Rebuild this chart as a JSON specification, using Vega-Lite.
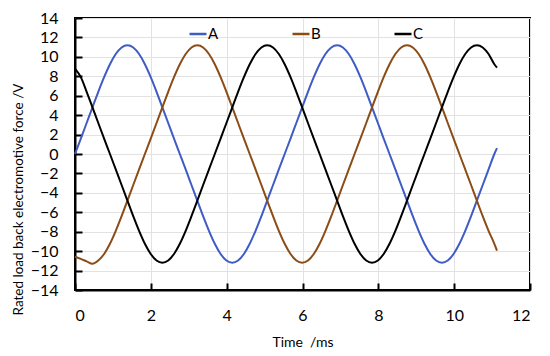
{
  "$schema": "https://vega.github.io/schema/vega-lite/v6.json",
  "width": 455,
  "height": 272,
  "autosize": {"type": "none"},
  "padding": {"left": 75, "top": 18, "right": 20, "bottom": 66},
  "background": "white",
  "config": {
    "font": "Lato",
    "view": {"stroke": "black", "strokeWidth": 2},
    "axis": {
      "domainColor": "black", "domainWidth": 2,
      "tickColor": "black", "tickWidth": 2,
      "gridColor": "#e2e2e2", "gridWidth": 1,
      "labelColor": "black", "titleColor": "black",
      "labelFont": "Lato", "titleFont": "Lato",
      "labelFontSize": 16, "titleFontWeight": "normal", "titleFontSize": 14
    }
  },
  "data": {"values": [
    {"t":0,"A":0,"B":-10.57,"C":8.8},
    {"t":0.154,"A":1.59,"B":-10.8,"C":7.91},
    {"t":0.307,"A":3.19,"B":-11.05,"C":6.4},
    {"t":0.461,"A":4.8,"B":-11.3,"C":4.8},
    {"t":0.614,"A":6.4,"B":-10.97,"C":3.19},
    {"t":0.768,"A":7.91,"B":-10.29,"C":1.59},
    {"t":0.922,"A":9.24,"B":-9.24,"C":0},
    {"t":1.075,"A":10.29,"B":-7.91,"C":-1.59},
    {"t":1.229,"A":10.97,"B":-6.4,"C":-3.19},
    {"t":1.383,"A":11.2,"B":-4.8,"C":-4.8},
    {"t":1.536,"A":10.97,"B":-3.19,"C":-6.4},
    {"t":1.69,"A":10.29,"B":-1.59,"C":-7.91},
    {"t":1.843,"A":9.24,"B":0,"C":-9.24},
    {"t":1.997,"A":7.91,"B":1.59,"C":-10.29},
    {"t":2.151,"A":6.4,"B":3.19,"C":-10.97},
    {"t":2.304,"A":4.8,"B":4.8,"C":-11.2},
    {"t":2.458,"A":3.19,"B":6.4,"C":-10.97},
    {"t":2.611,"A":1.59,"B":7.91,"C":-10.29},
    {"t":2.765,"A":0,"B":9.24,"C":-9.24},
    {"t":2.919,"A":-1.59,"B":10.29,"C":-7.91},
    {"t":3.072,"A":-3.19,"B":10.97,"C":-6.4},
    {"t":3.226,"A":-4.8,"B":11.2,"C":-4.8},
    {"t":3.379,"A":-6.4,"B":10.97,"C":-3.19},
    {"t":3.533,"A":-7.91,"B":10.29,"C":-1.59},
    {"t":3.687,"A":-9.24,"B":9.24,"C":0},
    {"t":3.84,"A":-10.29,"B":7.91,"C":1.59},
    {"t":3.994,"A":-10.97,"B":6.4,"C":3.19},
    {"t":4.148,"A":-11.2,"B":4.8,"C":4.8},
    {"t":4.301,"A":-10.97,"B":3.19,"C":6.4},
    {"t":4.455,"A":-10.29,"B":1.59,"C":7.91},
    {"t":4.608,"A":-9.24,"B":0,"C":9.24},
    {"t":4.762,"A":-7.91,"B":-1.59,"C":10.29},
    {"t":4.916,"A":-6.4,"B":-3.19,"C":10.97},
    {"t":5.069,"A":-4.8,"B":-4.8,"C":11.2},
    {"t":5.223,"A":-3.19,"B":-6.4,"C":10.97},
    {"t":5.376,"A":-1.59,"B":-7.91,"C":10.29},
    {"t":5.53,"A":0,"B":-9.24,"C":9.24},
    {"t":5.684,"A":1.59,"B":-10.29,"C":7.91},
    {"t":5.837,"A":3.19,"B":-10.97,"C":6.4},
    {"t":5.991,"A":4.8,"B":-11.2,"C":4.8},
    {"t":6.144,"A":6.4,"B":-10.97,"C":3.19},
    {"t":6.298,"A":7.91,"B":-10.29,"C":1.59},
    {"t":6.452,"A":9.24,"B":-9.24,"C":0},
    {"t":6.605,"A":10.29,"B":-7.91,"C":-1.59},
    {"t":6.759,"A":10.97,"B":-6.4,"C":-3.19},
    {"t":6.913,"A":11.2,"B":-4.8,"C":-4.8},
    {"t":7.066,"A":10.97,"B":-3.19,"C":-6.4},
    {"t":7.22,"A":10.29,"B":-1.59,"C":-7.91},
    {"t":7.373,"A":9.24,"B":0,"C":-9.24},
    {"t":7.527,"A":7.91,"B":1.59,"C":-10.29},
    {"t":7.681,"A":6.4,"B":3.19,"C":-10.97},
    {"t":7.834,"A":4.8,"B":4.8,"C":-11.2},
    {"t":7.988,"A":3.19,"B":6.4,"C":-10.97},
    {"t":8.141,"A":1.59,"B":7.91,"C":-10.29},
    {"t":8.295,"A":0,"B":9.24,"C":-9.24},
    {"t":8.449,"A":-1.59,"B":10.29,"C":-7.91},
    {"t":8.602,"A":-3.19,"B":10.97,"C":-6.4},
    {"t":8.756,"A":-4.8,"B":11.2,"C":-4.8},
    {"t":8.909,"A":-6.4,"B":10.97,"C":-3.19},
    {"t":9.063,"A":-7.91,"B":10.29,"C":-1.59},
    {"t":9.217,"A":-9.24,"B":9.24,"C":0},
    {"t":9.37,"A":-10.29,"B":7.91,"C":1.59},
    {"t":9.524,"A":-10.97,"B":6.4,"C":3.19},
    {"t":9.678,"A":-11.2,"B":4.8,"C":4.8},
    {"t":9.831,"A":-10.97,"B":3.19,"C":6.4},
    {"t":9.985,"A":-10.29,"B":1.59,"C":7.91},
    {"t":10.138,"A":-9.24,"B":0,"C":9.24},
    {"t":10.292,"A":-7.91,"B":-1.59,"C":10.29},
    {"t":10.446,"A":-6.4,"B":-3.19,"C":10.97},
    {"t":10.599,"A":-4.8,"B":-4.8,"C":11.2},
    {"t":10.753,"A":-3.19,"B":-6.4,"C":10.97},
    {"t":10.907,"A":-1.59,"B":-7.91,"C":10.29},
    {"t":11.06,"A":0,"B":-9.24,"C":9.24},
    {"t":11.13,"A":0.6,"B":-9.95,"C":8.9}
  ]},
  "transform": [{"fold": ["A", "B", "C"], "as": ["series", "value"]}],
  "mark": {"type": "line", "strokeWidth": 2, "interpolate": "monotone"},
  "encoding": {
    "x": {
      "field": "t", "type": "quantitative",
      "scale": {"domain": [0, 12], "nice": false},
      "axis": {
        "values": [0, 2, 4, 6, 8, 10, 12],
        "title": "Time \u00a0/ms",
        "tickSize": -7, "labelPadding": 24,
        "titleY": 56, "titleBaseline": "alphabetic"
      }
    },
    "y": {
      "field": "value", "type": "quantitative",
      "scale": {"domain": [-14, 14], "nice": false},
      "axis": {
        "values": [-14, -12, -10, -8, -6, -4, -2, 0, 2, 4, 6, 8, 10, 12, 14],
        "title": "Rated load back electromotive force /V",
        "titleFontSize": 13.5,
        "tickSize": -7, "labelPadding": 24,
        "titleX": -53, "titleY": 181, "titleAngle": -90, "titleBaseline": "alphabetic", "titleAlign": "center"
      }
    },
    "color": {
      "field": "series", "type": "nominal",
      "scale": {"domain": ["A", "B", "C"], "range": ["#3f5cc6", "#8b4c16", "#000000"]},
      "legend": {
        "orient": "none", "legendX": 113, "legendY": 6,
        "direction": "horizontal", "title": null,
        "symbolType": "stroke", "symbolSize": 289, "symbolStrokeWidth": 2.5,
        "labelFontSize": 15, "labelFont": "Lato", "labelColor": "black",
        "labelOffset": 0, "columnPadding": 68
      }
    }
  }
}
